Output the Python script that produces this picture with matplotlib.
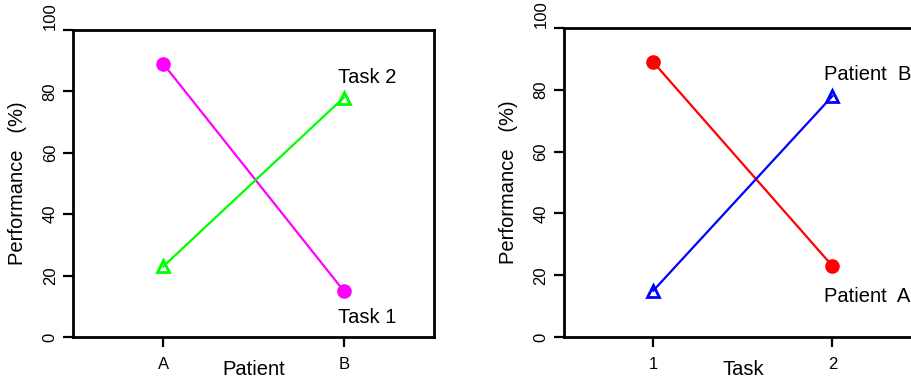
import matplotlib
matplotlib.use('Agg')
import matplotlib.pyplot as plt

plt.rcParams['font.family'] = ['Liberation Sans', 'DejaVu Sans']

# data
patients = ['A', 'B']
tasks = ['1', '2']
task1 = [89, 15]   # performance of patient A, B on task 1
task2 = [23, 78]   # performance of patient A, B on task 2
patient_a = [89, 23]  # task 1, task 2
patient_b = [15, 78]
yticks = [0, 20, 40, 60, 80, 100]

fig = plt.figure(figsize=(9.12, 3.8), dpi=100)
ax1 = fig.add_axes([0.080, 0.113, 0.396, 0.808])
ax2 = fig.add_axes([0.618, 0.113, 0.393, 0.813])


def style(ax, xlabels, xlabel, right_spine=True):
    ax.set_xlim(0.5, 2.5)
    ax.set_ylim(0, 100)
    ax.set_xticks([1, 2])
    ax.set_xticklabels(xlabels)
    ax.set_yticks(yticks)
    labs = ax.set_yticklabels([str(v) for v in yticks], rotation=90,
                              va='center')
    # top label sits just above its tick, as in the original
    labs[-1].set_va('bottom')
    for s in ax.spines.values():
        s.set_linewidth(2)
    ax.spines['right'].set_visible(right_spine)
    ax.tick_params(direction='out', length=7, width=1.6, labelsize=12)
    ax.tick_params(axis='x', pad=7)
    ax.tick_params(axis='y', pad=4)
    ax.set_xlabel(xlabel, fontsize=14.5, labelpad=-8)
    ax.set_ylabel('Performance   (%)', fontsize=14.5, labelpad=11)


x = [1, 2]

# left panel: x = patient
ax1.plot(x, task1, color='#ff00ff', lw=1.6, marker='o', ms=9.5)
ax1.plot(x, task2, color='#00ff00', lw=1.6, marker='^', ms=9,
         mfc='none', mew=2)
ax1.text(1.966, 82.8, 'Task 2', fontsize=14.5)
ax1.text(1.966, 4.6, 'Task 1', fontsize=14.5)
style(ax1, patients, 'Patient')

# right panel: x = task
ax2.plot(x, patient_a, color='#ff0000', lw=1.6, marker='o', ms=9.5)
ax2.plot(x, patient_b, color='#0000ff', lw=1.6, marker='^', ms=9,
         mfc='none', mew=2)
ax2.text(1.955, 83.2, 'Patient  B', fontsize=14.5)
ax2.text(1.955, 11.3, 'Patient  A', fontsize=14.5)
style(ax2, tasks, 'Task')

fig.savefig('out.png', dpi=100)
